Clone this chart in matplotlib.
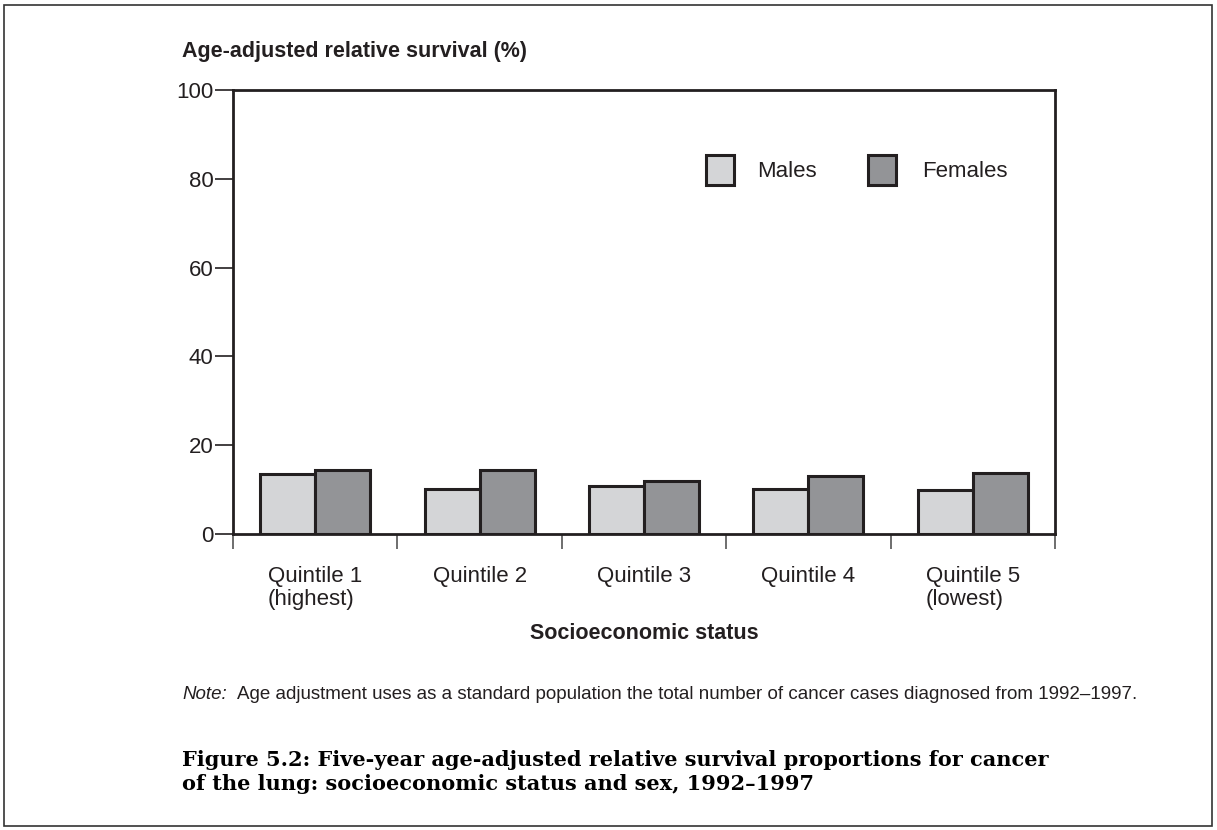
import matplotlib.pyplot as plt
import numpy as np
from matplotlib.patches import Rectangle

categories = ["Quintile 1\n(highest)", "Quintile 2", "Quintile 3", "Quintile 4", "Quintile 5\n(lowest)"]
males = [13.5, 10.1, 10.7, 10.1, 9.8]
females = [14.4, 14.5, 11.9, 13.0, 13.7]

plt.rcParams['font.family'] = ['Liberation Sans', 'DejaVu Sans']
ink = '#231f20'
male_col = '#d4d5d7'
female_col = '#939497'

fig = plt.figure(figsize=(12.17, 8.30), dpi=100)
ax = fig.add_axes([233 / 1217, 1 - 534 / 830, 822 / 1217, 444 / 830])

x = np.arange(len(categories))
w = 0.335
ax.bar(x - w / 2, males, w, color=male_col, edgecolor=ink, linewidth=2.2, zorder=3)
ax.bar(x + w / 2, females, w, color=female_col, edgecolor=ink, linewidth=2.2, zorder=3)

ax.set_xlim(-0.5, len(categories) - 0.5)
ax.set_ylim(0, 100)
ax.set_yticks([0, 20, 40, 60, 80, 100])
ax.tick_params(axis='y', length=13, width=1.2, color=ink, labelsize=16, pad=1, labelcolor=ink)

# category boundary ticks, labels in between
ax.set_xticks(np.arange(-0.5, len(categories)), minor=False)
ax.set_xticklabels([])
ax.set_xticks(x, minor=True)
ax.set_xticklabels(categories, minor=True, fontsize=16, color=ink, linespacing=1.15,
                   multialignment='left')
ax.tick_params(axis='x', which='major', length=11, width=1.2, color='#555555')
ax.tick_params(axis='x', which='minor', length=0, pad=23)
for s in ax.spines.values():
    s.set_linewidth(2.0)
    s.set_color(ink)

# legend drawn as squares and text inside the axes
ax.add_patch(Rectangle((0.575, 0.786), 0.034, 0.0676, transform=ax.transAxes,
                       facecolor=male_col, edgecolor=ink, linewidth=2.2, zorder=4))
ax.text(0.638, 0.817, "Males", transform=ax.transAxes, fontsize=16, va='center', color=ink)
ax.add_patch(Rectangle((0.773, 0.786), 0.034, 0.0676, transform=ax.transAxes,
                       facecolor=female_col, edgecolor=ink, linewidth=2.2, zorder=4))
ax.text(0.838, 0.817, "Females", transform=ax.transAxes, fontsize=16, va='center', color=ink)

fig.text(182 / 1217, 1 - 52 / 830, "Age-adjusted relative survival (%)", fontsize=15.5,
         fontweight='bold', va='center', color=ink)
fig.text(644 / 1217, 1 - 633 / 830, "Socioeconomic status", fontsize=15.5,
         fontweight='bold', va='center', ha='center', color=ink)
fig.text(182 / 1217, 1 - 694 / 830, "Note:", fontsize=13.5, style='italic', va='center', color=ink)
fig.text(237 / 1217, 1 - 694 / 830,
         "Age adjustment uses as a standard population the total number of cancer cases diagnosed from 1992\u20131997.",
         fontsize=13.5, va='center', color=ink)
fig.text(182 / 1217, 1 - 772 / 830,
         "Figure 5.2: Five-year age-adjusted relative survival proportions for cancer\n"
         "of the lung: socioeconomic status and sex, 1992\u20131997",
         fontsize=15, fontweight='bold', family=['DejaVu Serif'], va='center', color='black',
         linespacing=1.3)

fig.patches.append(Rectangle((4 / 1217, 4 / 830), 1208 / 1217, 821 / 830, transform=fig.transFigure,
                             fill=False, edgecolor='#333333', linewidth=1.2))

fig.savefig("out.png", dpi=100)
